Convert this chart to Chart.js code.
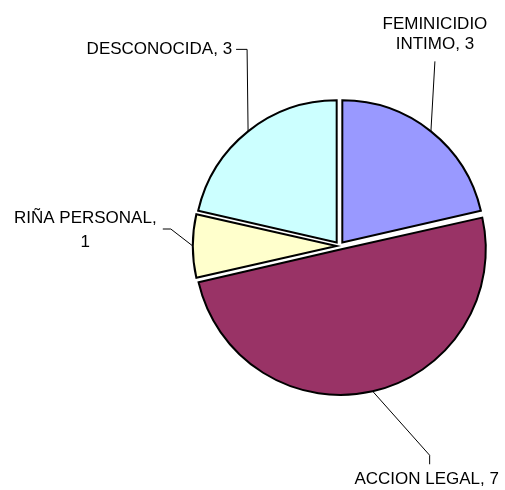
<!DOCTYPE html>
<html>
<head>
<meta charset="utf-8">
<script src="https://cdn.jsdelivr.net/npm/chart.js@4/dist/chart.umd.min.js"></script>
<style>
  html, body { margin: 0; padding: 0; background: #fff; }
  #wrap { width: 505px; height: 490px; position: relative; }
</style>
</head>
<body>
<div id="wrap"><canvas id="pieChart"></canvas></div>
<script>
// datos
const categorias = ['FEMINICIDIO INTIMO', 'ACCION LEGAL', 'RIÑA PERSONAL', 'DESCONOCIDA'];
const casos = [3, 7, 1, 3];
const colores = ['#9999FF', '#993366', '#FFFFCC', '#CCFFFF'];

// etiquetas (texto de cada rebanada)
const etiquetas = [
  ['FEMINICIDIO', 'INTIMO, 3'],
  ['ACCION LEGAL, 7'],
  ['RIÑA PERSONAL,', '1'],
  ['DESCONOCIDA, 3']
];

// guias: puntos relativos al borde de la rebanada, luego posicion del texto
const guias = [
  { pts: [[4, -70]], text: [0, -37.5], align: 'center', lh: 20.5 },
  { pts: [[57, 64], [57, 73]], text: [-3, 15], align: 'center', lh: 20 },
  { pts: [[-22, -17], [-30, -17]], text: [-77.5, -11], align: 'center', lh: 24 },
  { pts: [[-1, -82], [-12, -82]], text: [-4, 0], align: 'right', lh: 20 }
];

const explode = [18, 14, 12, 18];

const labelPlugin = {
  id: 'etiquetasGuia',
  afterDraw(chart) {
    const ctx = chart.ctx;
    const meta = chart.getDatasetMeta(0);
    ctx.save();
    ctx.font = '17px "Liberation Sans", Arial, sans-serif';
    ctx.fillStyle = '#000';
    ctx.strokeStyle = '#000';
    ctx.lineWidth = 1;
    meta.data.forEach((arc, i) => {
      const mid = (arc.startAngle + arc.endAngle) / 2;
      const off = (arc.options.offset || 0) / 4;
      const circ = arc.endAngle - arc.startAngle;
      const fix = 1 - Math.sin(Math.min(Math.PI, circ));
      const r = arc.outerRadius + off * fix + off;
      const ax = arc.x + Math.cos(mid) * r;
      const ay = arc.y + Math.sin(mid) * r;
      const g = guias[i];
      ctx.beginPath();
      ctx.moveTo(ax, ay);
      let lx = ax, ly = ay;
      g.pts.forEach(p => {
        lx = ax + p[0];
        ly = ay + p[1];
        ctx.lineTo(lx, ly);
      });
      ctx.stroke();
      const lines = etiquetas[i];
      const tx = lx + g.text[0];
      const ty = ly + g.text[1];
      ctx.textAlign = g.align;
      ctx.textBaseline = 'middle';
      lines.forEach((t, k) => {
        ctx.fillText(t, tx, ty + k * g.lh);
      });
    });
    ctx.restore();
  }
};

new Chart(document.getElementById('pieChart'), {
  type: 'pie',
  data: {
    labels: categorias,
    datasets: [{
      data: casos,
      backgroundColor: colores,
      borderColor: '#000',
      borderWidth: 2,
      borderJoinStyle: 'miter',
      offset: explode,
      radius: 142
    }]
  },
  options: {
    responsive: true,
    maintainAspectRatio: false,
    animation: false,
    layout: { padding: { left: 177, right: 3, top: 4, bottom: 2 } },
    plugins: {
      legend: { display: false },
      tooltip: { enabled: false }
    }
  },
  plugins: [labelPlugin]
});
</script>
</body>
</html>
